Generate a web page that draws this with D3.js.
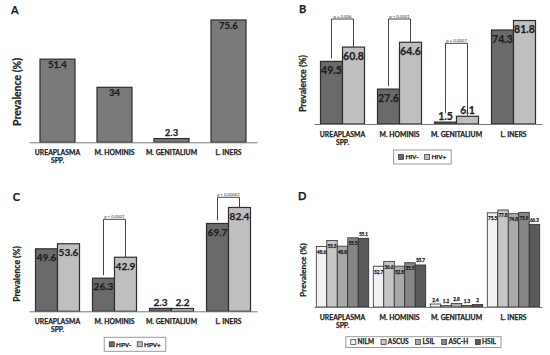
<!DOCTYPE html>
<html>
<head>
<meta charset="utf-8">
<script src="https://cdnjs.cloudflare.com/ajax/libs/d3/7.8.5/d3.min.js"></script>
<style>
  body { margin: 0; background: #fff; }
  svg { display: block; font-family: Lato, "Open Sans", sans-serif; }
  .heavy { stroke: currentColor; stroke-width: 0.25; paint-order: stroke; }
</style>
</head>
<body>
<div id="chart"></div>
<script>
// categories shared by all four panels
var categories = ["UREAPLASMA SPP.", "M. HOMINIS", "M. GENITALIUM", "L. INERS"];

// A: overall prevalence
var overallValues = [51.4, 34, 2.3, 75.6];

// B: by HIV status
var hivSeries = ["HIV-", "HIV+"];
var hivNeg = [49.5, 27.6, 1.5, 74.3];
var hivPos = [60.8, 64.6, 6.1, 81.8];
// bracket level given in prevalence units
var hivPValues = [
  { cat: 0, text: "p = 0.006", level: 83 },
  { cat: 1, text: "p < 0.0001", level: 83 },
  { cat: 2, text: "p = 0.0007", level: 63.8 }
];

// C: by HPV status
var hpvSeries = ["HPV-", "HPV+"];
var hpvNeg = [49.6, 26.3, 2.3, 69.7];
var hpvPos = [53.6, 42.9, 2.2, 82.4];
var hpvPValues = [
  { cat: 1, text: "p < 0.0001", level: 73 },
  { cat: 3, text: "p < 0.00001", level: 90.5 }
];

// D: by cytology
var cytoSeries = ["NILM", "ASCUS", "LSIL", "ASC-H", "HSIL"];
var nilm = [48.6, 32.7, 2.4, 75.5];
var ascus = [53.3, 36.6, 1.2, 77.8];
var lsil = [48.8, 32.8, 2.8, 74.8];
var ascH = [55.5, 35.5, 1.3, 75.9];
var hsil = [55.1, 33.7, 2, 66.3];

var svg = d3.select("#chart").append("svg")
  .attr("width", 550)
  .attr("height", 355)
  .style("color", "#1f1f1f");

var panels = [
  { letter: "A", lx: 11, ly: 13.5, left: 29, right: 257, baseline: 142.3, ppu: 1.618, pad: 0.386,
    series: ["All"], values: [overallValues], colors: ["#7a7a7a"],
    labelSize: 9.5, labelIn: 9, labelAbove: [],
    titleX: 17, titleY: 92, titleSize: 10.5, pvals: [], legend: null },
  { letter: "B", lx: 299, ly: 12.7, left: 314, right: 542, baseline: 124, ppu: 1.265, pad: 0.228,
    series: hivSeries, values: [hivNeg, hivPos], colors: ["#6a6a6a", "#bfbfbf"],
    labelSize: 10.5, labelIn: 12.5, labelAbove: [],
    titleX: 303, titleY: 83.5, titleSize: 8.8, pvals: hivPValues,
    legend: { cx: 422.4, y: 150, h: 14, size: 6.3, spacing: 6 } },
  { letter: "C", lx: 12.7, ly: 200.7, left: 29, right: 257, baseline: 311.3, ppu: 1.26, pad: 0.228,
    series: hpvSeries, values: [hpvNeg, hpvPos], colors: ["#6a6a6a", "#bfbfbf"],
    labelSize: 10, labelIn: 12.3, labelAbove: [],
    titleX: 16.7, titleY: 274, titleSize: 8.6, pvals: hpvPValues,
    legend: { cx: 135, y: 337.3, h: 14, size: 6.3, spacing: 6 } },
  { letter: "D", lx: 298, ly: 200, left: 314, right: 542, baseline: 307, ppu: 1.247, pad: 0.08,
    series: cytoSeries, values: [nilm, ascus, lsil, ascH, hsil],
    colors: ["#f2f2f2", "#c6c6c6", "#a9a9a9", "#868686", "#595959"],
    labelSize: 4.6, labelIn: 7.5, labelAbove: ["HSIL"],
    titleX: 303, titleY: 270, titleSize: 8.3, pvals: [],
    legend: { cx: 423.4, y: 336.7, h: 10.8, size: 6.5, spacing: 7 } }
];

panels.forEach(drawPanel);

function drawPanel(p) {
  var g = svg.append("g").attr("class", "panel-" + p.letter);

  var x = d3.scaleBand()
    .domain(categories)
    .range([p.left, p.right])
    .paddingInner(p.pad)
    .paddingOuter(p.pad / 2);
  var y = d3.scaleLinear()
    .domain([0, 100])
    .range([p.baseline, p.baseline - 100 * p.ppu]);
  var xs = d3.scaleBand()
    .domain(p.series)
    .range([0, x.bandwidth()]);
  var color = d3.scaleOrdinal().domain(p.series).range(p.colors);

  // flat table of bars
  var rows = [];
  categories.forEach(function(c, i) {
    p.series.forEach(function(s, j) {
      rows.push({ cat: c, series: s, value: p.values[j][i] });
    });
  });

  // panel letter
  g.append("text")
    .attr("class", "heavy")
    .attr("x", p.lx).attr("y", p.ly)
    .attr("font-size", 11).attr("font-weight", 700)
    .attr("fill", "currentColor")
    .text(p.letter);

  // y title
  g.append("text")
    .attr("class", "heavy")
    .attr("transform", "translate(" + (p.titleX + p.titleSize * 0.35) + "," + p.titleY + ") rotate(-90)")
    .attr("text-anchor", "middle")
    .attr("font-size", p.titleSize).attr("font-weight", 700)
    .attr("fill", "currentColor")
    .text("Prevalence (%)");

  // bars
  g.selectAll("rect.bar")
    .data(rows)
    .enter().append("rect")
      .attr("class", "bar")
      .attr("x", function(d) { return x(d.cat) + xs(d.series); })
      .attr("y", function(d) { return y(d.value); })
      .attr("width", xs.bandwidth())
      .attr("height", function(d) { return p.baseline - y(d.value); })
      .attr("fill", function(d) { return color(d.series); })
      .attr("stroke", "#2e2e2e")
      .attr("stroke-width", p.letter == "D" ? 0.8 : 1.2);

  // x axis line + category labels
  var axis = g.append("g")
    .attr("transform", "translate(0," + p.baseline + ")")
    .call(d3.axisBottom(x).tickSize(0).tickSizeOuter(0).tickPadding(0));
  axis.select(".domain").attr("stroke", "#7a7a7a").attr("stroke-width", 1);
  axis.selectAll(".tick text").each(function(d) {
    var t = d3.select(this);
    var words = d.split(" SPP.");
    t.text(null)
      .attr("class", "heavy")
      .attr("y", 0).attr("dy", null)
      .attr("font-size", 6.8).attr("font-weight", 700)
      .attr("font-family", "Lato, 'Open Sans', sans-serif")
      .attr("fill", "currentColor");
    t.append("tspan").attr("x", 0).attr("y", 12.7).text(words[0]);
    if (words.length > 1) {
      t.append("tspan").attr("x", 0).attr("y", 21.2).text("SPP.");
    }
  });

  // value labels
  g.selectAll("text.val")
    .data(rows)
    .enter().append("text")
      .attr("class", "val heavy")
      .attr("text-anchor", "middle")
      .attr("font-size", p.labelSize).attr("font-weight", 700)
      .attr("fill", "currentColor")
      .attr("x", function(d) { return x(d.cat) + xs(d.series) + xs.bandwidth() / 2; })
      .attr("y", function(d) {
        if (d.value < 10 || p.labelAbove.indexOf(d.series) >= 0) return y(d.value) - 2.5;
        return y(d.value) + p.labelIn;
      })
      .text(function(d) { return d.value; });

  // significance brackets
  p.pvals.forEach(function(pv) {
    var c = categories[pv.cat];
    var x1 = x(c) + xs(p.series[0]) + xs.bandwidth() / 2,
        x2 = x(c) + xs(p.series[1]) + xs.bandwidth() / 2;
    var v1 = p.values[0][pv.cat], v2 = p.values[1][pv.cat];
    var y1 = v1 < 10 ? y(v1) - 9 : y(v1) - 3,
        y2 = y(v2),
        yl = y(pv.level);
    g.append("path")
      .attr("d", "M" + x1 + "," + y1 + "V" + yl + "H" + x2 + "V" + y2)
      .attr("fill", "none")
      .attr("stroke", "#444")
      .attr("stroke-width", 1);
    g.append("text")
      .attr("x", (x1 + x2) / 2).attr("y", yl - 1.5)
      .attr("text-anchor", "middle")
      .attr("font-size", 4.3)
      .attr("fill", "#333")
      .text(pv.text);
  });

  // legend
  if (p.legend) {
    var L = p.legend, sw = 5, pad = 5, gap = 1.8;
    var lg = g.append("g");
    var box = lg.append("rect")
      .attr("y", L.y).attr("height", L.h)
      .attr("fill", "#fff").attr("stroke", "#9a9a9a").attr("stroke-width", 1);
    var cursor = 0;
    var items = [];
    p.series.forEach(function(s) {
      var it = lg.append("g");
      it.append("rect")
        .attr("x", 0).attr("y", -sw / 2)
        .attr("width", sw).attr("height", sw)
        .attr("fill", color(s)).attr("stroke", "#333").attr("stroke-width", 0.7);
      var tx = it.append("text")
        .attr("class", "heavy")
        .attr("x", sw + gap).attr("y", L.size * 0.36)
        .attr("font-size", L.size).attr("font-weight", 700)
        .attr("fill", "currentColor")
        .text(s);
      var w = sw + gap + tx.node().getComputedTextLength();
      items.push({ g: it, offset: cursor });
      cursor += w + L.spacing;
    });
    var total = cursor - L.spacing + pad * 2;
    var bx = L.cx - total / 2;
    box.attr("x", bx).attr("width", total);
    items.forEach(function(it) {
      it.g.attr("transform", "translate(" + (bx + pad + it.offset) + "," + (L.y + L.h / 2) + ")");
    });
  }
}
</script>
</body>
</html>
